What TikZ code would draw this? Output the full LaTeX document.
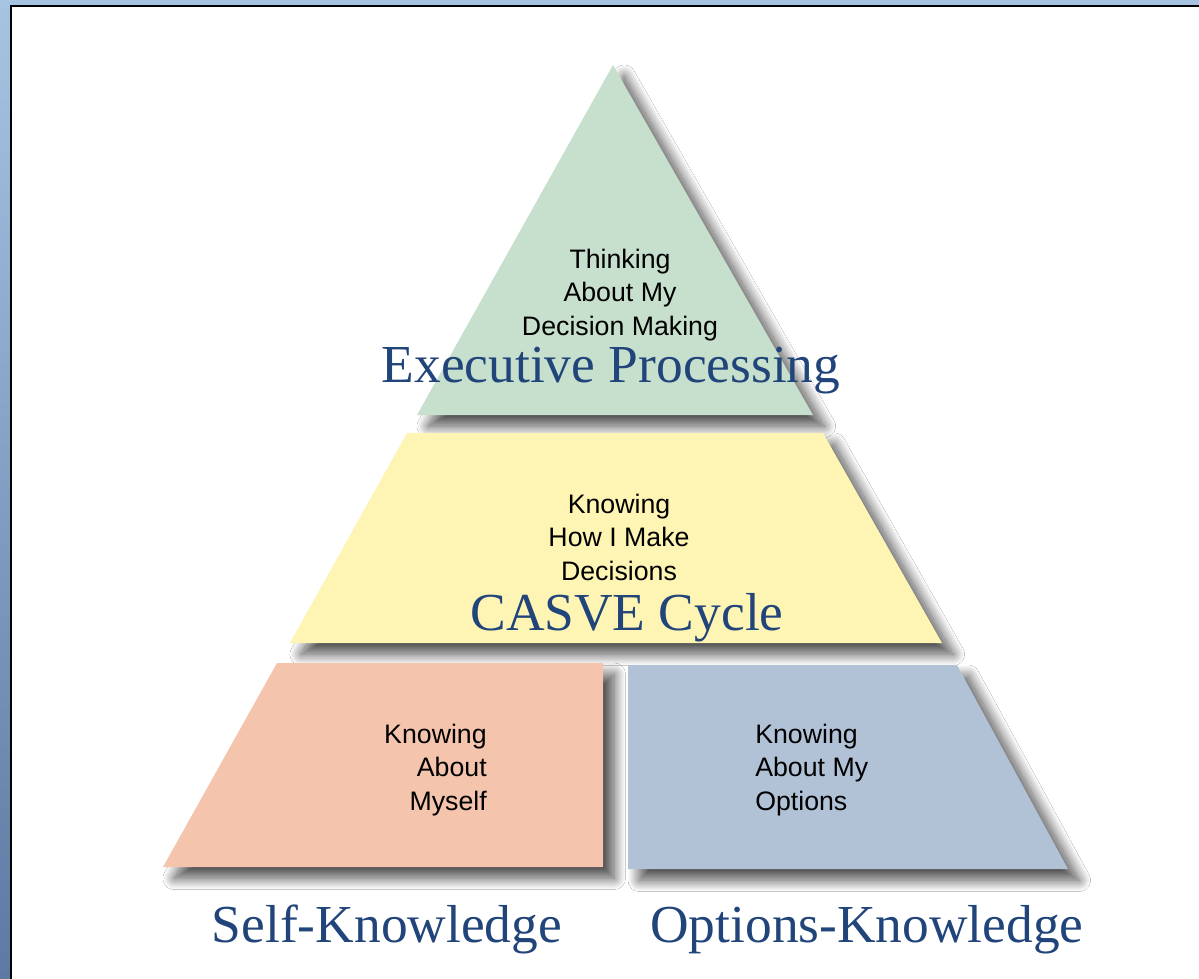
\documentclass[tikz,border=0pt]{standalone}
\usepackage{fontspec}
\setmainfont{Liberation Serif}
\newfontfamily\boxfont{Liberation Sans}
\usepackage{xcolor}
\usetikzlibrary{shadows.blur}

\definecolor{framebluetop}{RGB}{166,196,226}
\definecolor{frameblue}{RGB}{92,122,162}
\definecolor{execgreen}{RGB}{199,224,205}
\definecolor{casveyellow}{RGB}{254,245,180}
\definecolor{selfsalmon}{RGB}{244,196,173}
\definecolor{optblue}{RGB}{178,194,214}
\definecolor{titleblue}{RGB}{33,69,122}

\begin{document}
\begin{tikzpicture}[
  x=0.025cm, y=-0.025cm,
  layer/.style={fill=#1, blur shadow={shadow xshift=8pt, shadow yshift=-8pt,
                shadow blur radius=8pt, shadow blur steps=24, shadow opacity=70}},
  inner/.style={font=\boxfont\fontsize{19}{23.5}\selectfont, align=center,
                inner sep=0pt, anchor=base},
  title/.style={font=\fontsize{38}{40}\selectfont, text=titleblue,
                inner sep=0pt, anchor=base}
]
  \useasboundingbox (0,0) rectangle (1199,979);
  \clip (0,0) rectangle (1199,979);

  % frame
  \shade[top color=framebluetop, bottom color=frameblue] (0,0) rectangle (1199,979);
  \fill[white] (11,6) rectangle (1210,990);
  \draw[black, line width=2.1pt] (11,990) |- (1210,6);

  % pyramid layers
  \path[layer=execgreen]   (613,65) -- (813,415) -- (417,415) -- cycle;
  \path[layer=casveyellow] (407,433) -- (823,433) -- (942,643) -- (290,643) -- cycle;
  \path[layer=selfsalmon]  (277,663) -- (603,663) -- (603,867) -- (163,867) -- cycle;
  \path[layer=optblue]     (628,665) -- (957,665) -- (1068,869) -- (628,869) -- cycle;

  % texts (base = last line)
  \node[inner] (thinktxt) at (620,335) {Thinking\\About My\\Decision Making};
  \node[title] (exectitle) at (611,382) {Executive Processing};

  \node[inner] (howtxt) at (619,580) {Knowing\\How I Make\\Decisions};
  \node[title] (casvetitle) at (627,630) {CASVE Cycle};

  \node[inner, align=right, anchor=base east] (selftxt) at (487,810) {Knowing\\About\\Myself};
  \node[inner, align=left, anchor=base west] (opttxt) at (755,810) {Knowing\\About My\\Options};

  \node[title] (selftitle) at (387,942) {Self-Knowledge};
  \node[title] (opttitle) at (867,942) {Options-Knowledge};
\end{tikzpicture}
\end{document}
